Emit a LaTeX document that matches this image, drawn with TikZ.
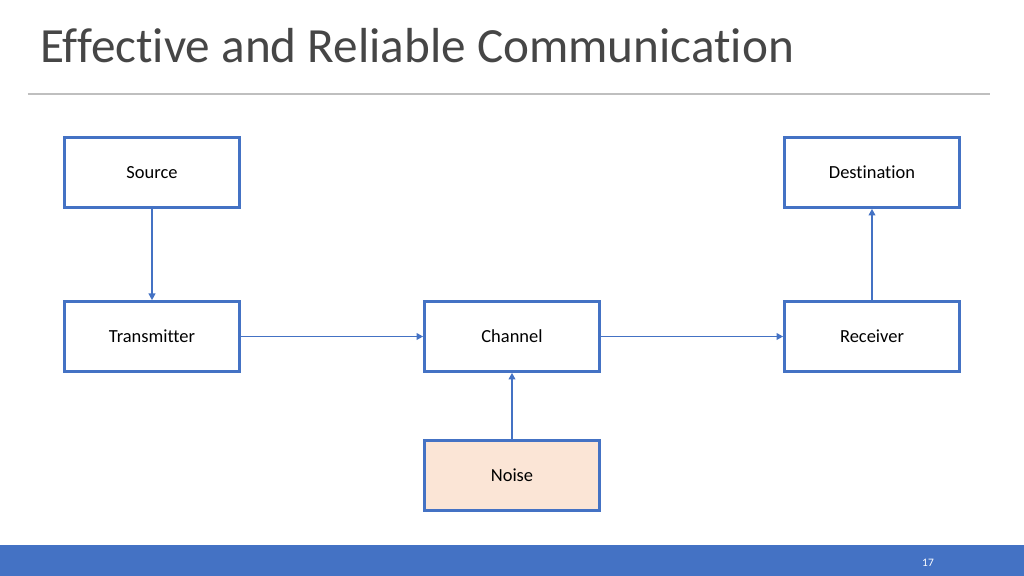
\documentclass[tikz,border=0pt]{standalone}
\usepackage{fontspec}
\setmainfont[Ligatures={NoCommon}]{Carlito}
\usetikzlibrary{arrows.meta, positioning, calc}

\begin{document}
\begin{tikzpicture}[
    >={Triangle[length=3.8pt, width=3.8pt]},
    every node/.style={font=\rmfamily},
]
% Colors
\definecolor{boxblue}{RGB}{68,114,196}
\definecolor{noisefill}{RGB}{251,229,214}
\definecolor{titlegray}{RGB}{70,70,70}
\definecolor{rulegray}{RGB}{191,191,191}
% ============================================================
% Styles
% ============================================================
\tikzset{
    blockbox/.style={
        draw=boxblue,
        fill=white,
        line width=1.5pt,
        minimum width=3.5cm,
        minimum height=1.4cm,
        inner sep=0pt,
        font=\fontsize{10.5}{12}\selectfont,
    },
    flow/.style={->, boxblue, line width=1pt},
}
% Page frame
\useasboundingbox (0, 0) rectangle (20.48, 11.52);
\fill[white] (0, 0) rectangle (20.48, 11.52);

% ============================================================
% Title and rule
% ============================================================
\node[anchor=base west, inner sep=0pt, titlegray,
    font=\fontsize{28}{33}\selectfont] (title) at (0.8, 10.26)
    {Effective and Reliable Communication};
\draw[rulegray, line width=0.6pt] (0.56, 9.64) -- (19.8, 9.64);

% ============================================================
% Blocks
% ============================================================
\def\colL{3.04}
\def\colM{10.24}
\def\colR{17.44}

% --- Top row ---
\node[blockbox] (src) at (\colL, 8.07) {Source};
\node[blockbox] (dst) at (\colR, 8.07) {Destination};
% --- Middle row ---
\node[blockbox] (tx) at (\colL, 4.79) {Transmitter};
\node[blockbox] (ch) at (\colM, 4.79) {Channel};
\node[blockbox] (rx) at (\colR, 4.79) {Receiver};
% --- Bottom: noise source ---
\node[blockbox, fill=noisefill] (noise) at (\colM, 2.01) {Noise};

% ============================================================
% Arrows
% ============================================================
\draw[flow] (src) -- (tx);
\foreach \i/\j in {tx/ch, ch/rx} {
    \draw[flow] (\i) -- (\j);
}
\draw[flow] (rx) -- (dst);
\draw[flow] (noise) -- (ch);

% ============================================================
% Footer bar
% ============================================================
\fill[boxblue] (0, 0) rectangle (20.48, 0.62);
\node[white, font=\fontsize{6.5}{8}\selectfont] (pagenum) at (18.56, 0.26) {17};
\end{tikzpicture}
\end{document}
